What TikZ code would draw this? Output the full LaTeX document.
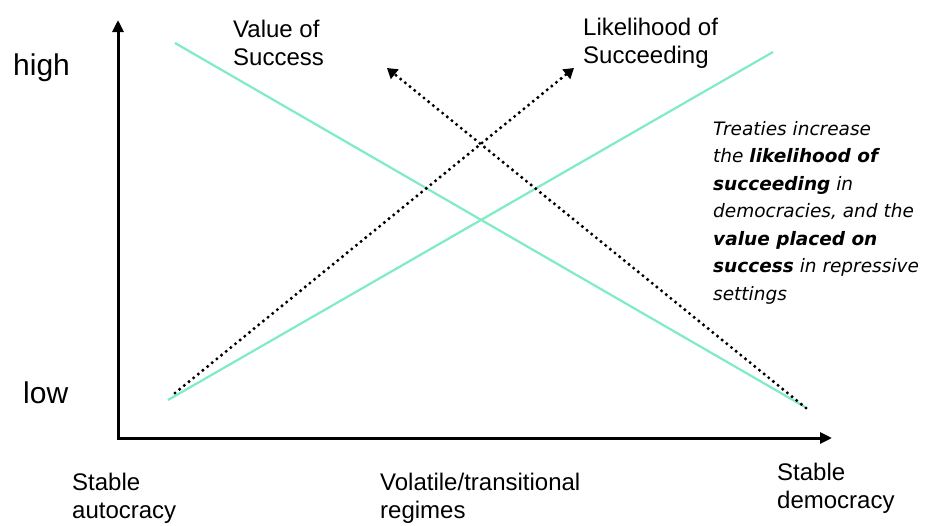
\documentclass[tikz,border=0pt]{standalone}
\usepackage{fontspec}
\setmainfont{Liberation Sans}
\newfontfamily\notefont{DejaVu Sans}
\usetikzlibrary{arrows.meta}
\definecolor{mint}{RGB}{128,236,196}
\begin{document}
\begin{tikzpicture}[x=1pt,y=-1pt,
  axis/.style={line width=3pt,-{Triangle[length=12pt,width=11pt]}},
  trend/.style={mint,line width=2.2pt},
  dotarrow/.style={line width=3.4pt,line cap=round,dash pattern=on 0pt off 6pt,
    -{Triangle[length=10pt,width=12pt]}},
  lbl/.style={inner sep=0pt,anchor=base west,align=left,font=\fontsize{24}{28}\selectfont},
  lvl/.style={inner sep=0pt,anchor=base west,font=\fontsize{30}{32}\selectfont},
  note/.style={inner sep=0pt,anchor=base west,align=left,
    font=\notefont\fontsize{18.5}{27.5}\selectfont\itshape}]
\useasboundingbox (0,0) rectangle (925,525);
\fill[white] (0,0) rectangle (925,525);

% axes
\coordinate (origin) at (118,438);
\coordinate (ytop) at (118,20);
\coordinate (xend) at (832,438);
\draw[axis] (origin) -- (ytop);
\draw[axis] ([xshift=-1.5pt]origin) -- (xend);

% trend lines
\coordinate (vsA) at (175,43);
\coordinate (vsB) at (805,407);
\coordinate (lsA) at (168,400);
\coordinate (lsB) at (773,52);
\draw[trend] (vsA) -- (vsB);
\draw[trend] (lsA) -- (lsB);

% shift arrows
\coordinate (upA) at (175,393);
\coordinate (upB) at (574,68);
\coordinate (dnA) at (806,408);
\coordinate (dnB) at (387,68);
\draw[dotarrow] (upA) -- (upB);
\draw[dotarrow] (dnA) -- (dnB);

% level labels
\node[lvl] (high) at (13,75) {high};
\node[lvl] (low) at (23,403) {low};

% curve labels (anchored at the last line's baseline)
\node[lbl] (value) at (233,65) {Value of\\Success};
\node[lbl] (likely) at (583,63) {Likelihood of\\Succeeding};

% regime labels
\node[lbl] (auto) at (72,518) {Stable\\autocracy};
\node[lbl] (volat) at (380,518) {Volatile/transitional\\regimes};
\node[lbl] (demo) at (777,508) {Stable\\democracy};

% annotation
\node[note] (treaty) at (713,300) {Treaties increase\\
the \textbf{likelihood of}\\
\textbf{succeeding} in\\
democracies, and the\\
\textbf{value placed on}\\
\textbf{success} in repressive\\
settings};
\end{tikzpicture}
\end{document}
